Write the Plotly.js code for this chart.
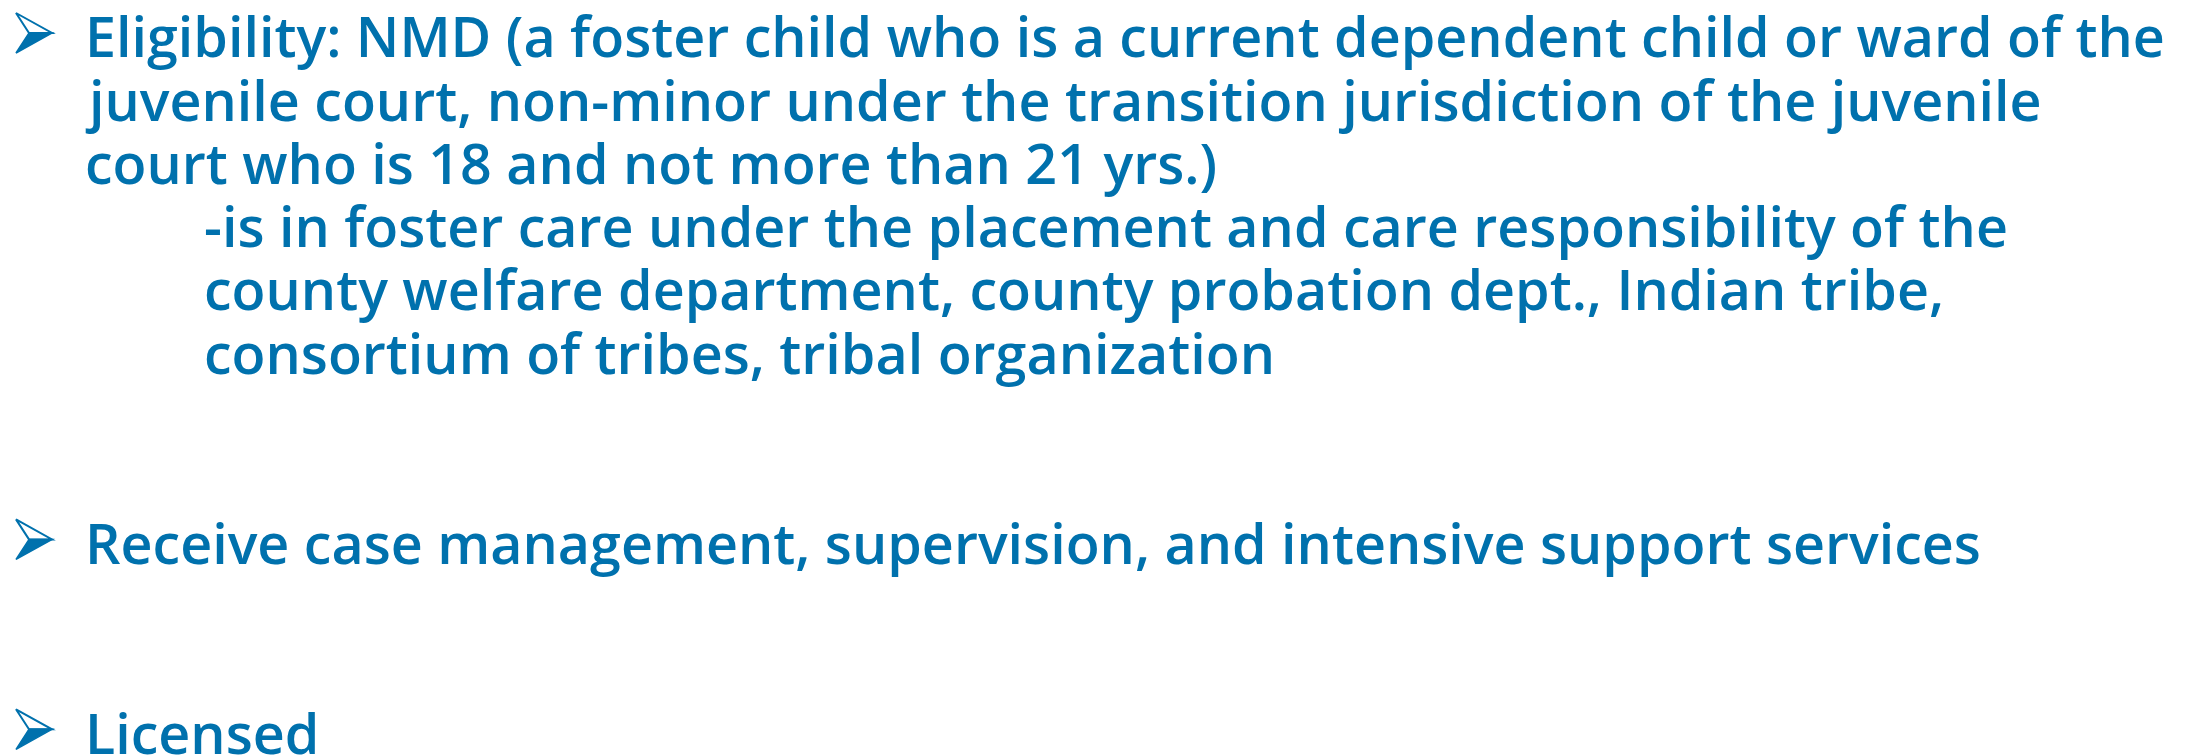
<!DOCTYPE html>
<html>
<head>
<meta charset="utf-8">
<script src="https://cdn.plot.ly/plotly-3.0.1.min.js"></script>
<style>html,body{margin:0;padding:0;background:#fff;}#chart{width:2190px;height:755px;}</style>
</head>
<body>
<div id="chart"></div>
<script>
// Slide content: one entry per text row
const lineTexts = [
  "Eligibility: NMD (a foster child who is a current dependent child or ward of the",
  "juvenile court, non-minor under the transition jurisdiction of the juvenile",
  "court who is 18 and not more than 21 yrs.)",
  "-is in foster care under the placement and care responsibility of the",
  "county welfare department, county probation dept., Indian tribe,",
  "consortium of tribes, tribal organization",
  "Receive case management, supervision, and intensive support services",
  "Licensed"
];
const lineRows = [0, 1, 2, 3, 4, 5, 8, 11];     // row slot on the slide
const lineLevels = [0, 0, 0, 1, 1, 1, 0, 0];    // indent level
const bulletRows = [0, 8, 11];                  // rows that start with an arrow bullet

const W = 2190, H = 755;
const COLOR = "#0071AD";
const FONT = "Open Sans, Noto Sans, sans-serif";
const FS = 55.6;
const firstBaseline = 53, pitch = 63.3;
const levelX = [83, 202];

function baseline(r) { return firstBaseline + r * pitch; }

const annotations = lineTexts.map((t, i) => ({
  x: levelX[lineLevels[i]],
  y: baseline(lineRows[i]) - 0.31 * FS,
  xref: "x", yref: "y",
  text: t,
  showarrow: false,
  xanchor: "left",
  yanchor: "middle",
  align: "left",
  font: { family: FONT, size: FS, color: COLOR, weight: 600 }
}));

// Arrowhead bullets (3D arrow glyph): outlined upper half, filled lower half
const shapes = [];
bulletRows.forEach(r => {
  const b = baseline(r);
  const top = b - 40, mid = b - 20, bot = b;
  const xl = 16, xt = 52, xi = 29;
  shapes.push({
    type: "path", xref: "x", yref: "y",
    path: `M ${xl} ${top} L ${xt} ${mid} L ${xi} ${mid} Z`,
    fillcolor: "#ffffff", line: { color: COLOR, width: 2 }
  });
  shapes.push({
    type: "path", xref: "x", yref: "y",
    path: `M ${xi} ${mid} L ${xt} ${mid} L ${xl} ${bot} Z`,
    fillcolor: COLOR, line: { color: COLOR, width: 1.5 }
  });
});

const layout = {
  width: W, height: H,
  margin: { l: 0, r: 0, t: 0, b: 0 },
  paper_bgcolor: "#ffffff", plot_bgcolor: "#ffffff",
  xaxis: { range: [0, W], visible: false, fixedrange: true },
  yaxis: { range: [H, 0], visible: false, fixedrange: true },
  showlegend: false,
  annotations: annotations,
  shapes: shapes
};

Plotly.newPlot("chart", [{ x: [], y: [], type: "scatter", mode: "markers", hoverinfo: "skip" }], layout, { staticPlot: true, displayModeBar: false });
</script>
</body>
</html>
